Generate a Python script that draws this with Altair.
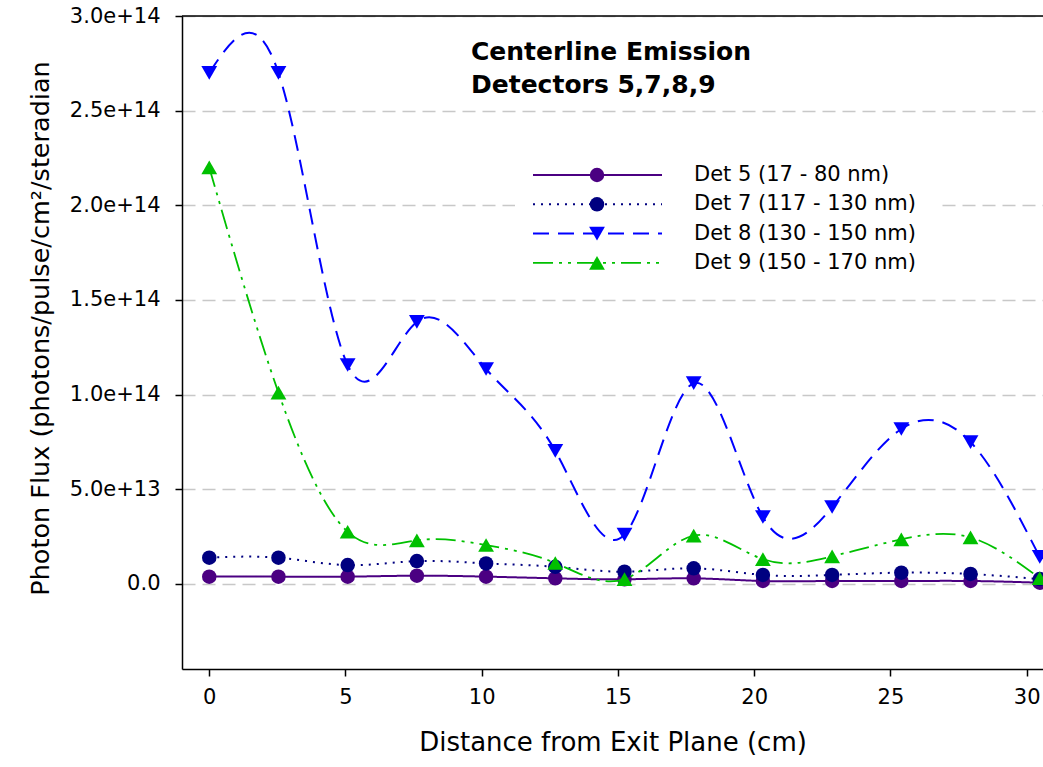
import altair as alt
import pandas as pd

# Distance from the exit plane (cm) at which each detector reading was taken
distance_cm = [0.0, 2.54, 5.08, 7.62, 10.16, 12.70, 15.24, 17.78, 20.32, 22.86, 25.40, 27.94, 30.48]

# Photon flux (photons/pulse/cm^2/steradian) per detector
det5 = [3.8e12, 3.8e12, 3.8e12, 4.3e12, 3.8e12, 2.9e12, 2.4e12, 2.9e12, 1.5e12, 1.5e12, 1.5e12, 1.5e12, 6e11]
det7 = [1.38e13, 1.38e13, 9.9e12, 1.2e13, 1.08e13, 9.0e12, 6.4e12, 8.2e12, 4.7e12, 4.7e12, 5.9e12, 5.2e12, 2.5e12]
det8 = [2.70e14, 2.70e14, 1.156e14, 1.384e14, 1.135e14, 7.02e13, 2.6e13, 1.06e14, 3.53e13, 4.06e13, 8.18e13, 7.49e13, 1.42e13]
det9 = [2.20e14, 1.01e14, 2.75e13, 2.3e13, 2.05e13, 1.1e13, 2.5e12, 2.55e13, 1.3e13, 1.45e13, 2.35e13, 2.45e13, 3e12]

labels = ["Det 5 (17 - 80 nm)", "Det 7 (117 - 130 nm)", "Det 8 (130 - 150 nm)", "Det 9 (150 - 170 nm)"]
series_values = [det5, det7, det8, det9]
colors = ["#4B0082", "#000080", "#0000FF", "#00C000"]
dashes = [[1, 0], [2, 6], [16, 9], [20, 6, 3, 6, 3, 6]]
shapes = ["circle", "circle", "triangle-down", "triangle-up"]
sizes = [210, 210, 250, 250]
widths = [2, 2, 2, 1.8]

x_ticks = [0, 5, 10, 15, 20, 25, 30]
y_ticks = [0, 5e13, 1e14, 1.5e14, 2e14, 2.5e14, 3e14]

FONT = "DejaVu Sans"
W, H = 861, 653

x_scale = alt.Scale(domain=[-1, 30.6], nice=False, zero=False)
y_scale = alt.Scale(domain=[-4.5e13, 3.0e14], nice=False, zero=False)

x_axis = alt.Axis(
    values=x_ticks, title="Distance from Exit Plane (cm)",
    grid=False, tickSize=7, tickWidth=1.5, tickColor="black", domainColor="black",
    domainWidth=1.5, labelFont=FONT, labelFontSize=21, labelColor="black",
    labelPadding=10, titleFont=FONT, titleFontSize=26, titleFontWeight="normal",
    titleColor="black", titlePadding=22,
)
y_axis = alt.Axis(
    values=y_ticks,
    labelExpr="datum.value == 0 ? '0.0' : format(datum.value, '.1e')",
    title="Photon Flux (photons/pulse/cm²/steradian",
    grid=True, gridColor="#c8c8c8", gridDash=[13, 7], gridWidth=1.5,
    tickSize=7, tickWidth=1.5, tickColor="black", domainColor="black", domainWidth=1.5,
    labelFont=FONT, labelFontSize=21, labelColor="black", labelPadding=15,
    titleFont=FONT, titleFontSize=25.5, titleFontWeight="normal", titleColor="black",
    titleAngle=270, titleBaseline="middle", titleAlign="center",
    titleX=-142, titleY=312,
)

def xy(xf, yf):
    return dict(
        x=alt.X(xf, scale=x_scale, axis=x_axis),
        y=alt.Y(yf, scale=y_scale, axis=y_axis),
    )

layers = []
for i, (lab, vals) in enumerate(zip(labels, series_values)):
    df = pd.DataFrame({"distance": distance_cm, "flux": vals, "series": lab})
    base = alt.Chart(df)
    line = base.mark_line(
        interpolate="natural", color=colors[i], strokeWidth=widths[i],
        strokeDash=dashes[i],
    ).encode(**xy("distance:Q", "flux:Q"))
    pts = base.mark_point(
        shape=shapes[i], filled=True, size=sizes[i], color=colors[i], opacity=1,
    ).encode(**xy("distance:Q", "flux:Q"))
    layers += [line, pts]

# solid frame line along the top of the plot
top_line = alt.Chart(pd.DataFrame({"v": [3.0e14]})).mark_rule(
    color="black", strokeWidth=1.5
).encode(y=alt.Y("v:Q", scale=y_scale, axis=y_axis))
layers.append(top_line)

# chart heading inside the plot
heading = alt.Chart(pd.DataFrame({"t": [["Centerline Emission", "Detectors 5,7,8,9"]]})).mark_text(
    font=FONT, fontSize=25, fontWeight="bold", align="left", baseline="top",
    lineHeight=33, color="black",
).encode(x=alt.value(289), y=alt.value(24), text="t")
layers.append(heading)

# legend box
leg_bg = alt.Chart(pd.DataFrame({"a": [0]})).mark_rect(color="white").encode(
    x=alt.value(333), x2=alt.value(758), y=alt.value(134), y2=alt.value(264)
)
layers.append(leg_bg)
for i, lab in enumerate(labels):
    ypx = 159 + 29.3 * i
    one = alt.Chart(pd.DataFrame({"label": [lab]}))
    layers.append(one.mark_rule(color=colors[i], strokeWidth=widths[i], strokeDash=dashes[i]).encode(
        x=alt.value(351), x2=alt.value(480), y=alt.value(ypx)))
    layers.append(one.mark_point(shape=shapes[i], filled=True, opacity=1, color=colors[i],
                                 size=sizes[i]).encode(
        x=alt.value(415), y=alt.value(ypx)))
    layers.append(one.mark_text(font=FONT, fontSize=21, align="left", baseline="middle",
                                color="black").encode(
        x=alt.value(512), y=alt.value(ypx), text="label"))

chart = alt.layer(*layers).properties(
    width=W, height=H,
    autosize=alt.AutoSizeParams(type="none"),
    padding={"left": 182, "top": 16, "right": 0, "bottom": 98},
).configure_view(stroke=None).configure(background="white")

chart.save("out.html", embed_options={"renderer": "svg", "actions": False})
